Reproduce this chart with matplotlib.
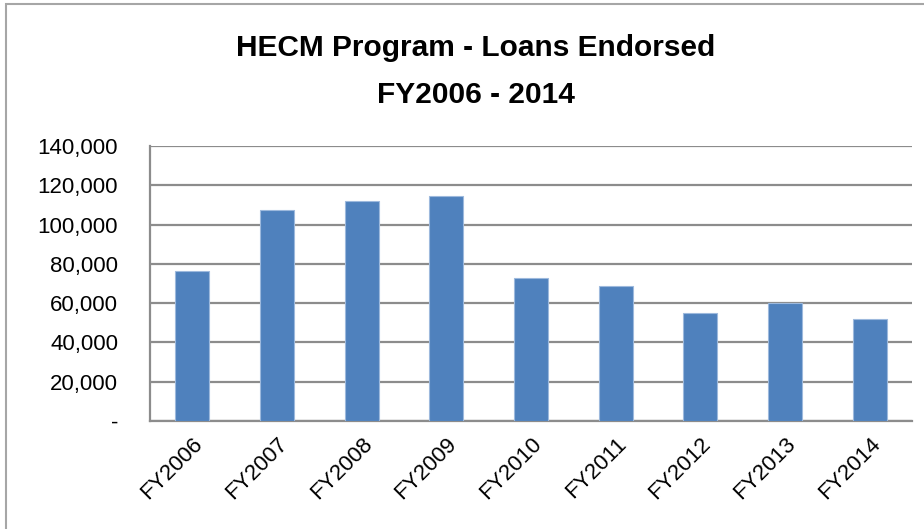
import matplotlib.pyplot as plt
from matplotlib.patches import Rectangle
from matplotlib.ticker import FuncFormatter

years = ['FY2006', 'FY2007', 'FY2008', 'FY2009', 'FY2010',
         'FY2011', 'FY2012', 'FY2013', 'FY2014']
loans = [76300, 107400, 112100, 114600, 72800, 68700, 54800, 59900, 51700]
y_ticks = [0, 20000, 40000, 60000, 80000, 100000, 120000, 140000]

plt.rcParams['font.family'] = ['Liberation Sans', 'DejaVu Sans']

W, H = 924, 529
fig = plt.figure(figsize=(W / 100, H / 100), dpi=100)
ax = fig.add_axes([150 / W, 1 - 421 / H, 762 / W, 275 / H])

# outer chart border
fig.patches.append(Rectangle((6 / W, -0.05), 1.2, 1 - 4 / H + 0.05,
                             transform=fig.transFigure, fill=False,
                             edgecolor='#a6a6a6', linewidth=1.5))

x = range(len(years))
ax.bar(x, loans, width=0.4, color='#4F81BD', edgecolor='#9db9dd',
       linewidth=0.8, zorder=3)

ax.set_xlim(-0.5, len(years) - 0.5)
ax.set_ylim(0, 140000)
ax.set_yticks(y_ticks)
ax.yaxis.set_major_formatter(FuncFormatter(lambda v, p: '-' if v == 0 else f'{int(v):,}'))
ax.grid(axis='y', color='#8c8c8c', linewidth=1.6, zorder=0)

ax.set_xticks(list(x))
ax.set_xticklabels(years, rotation=45, ha='right', va='top',
                   rotation_mode='anchor', fontsize=16)
ax.tick_params(axis='both', length=0)
ax.tick_params(axis='x', pad=9)
ax.tick_params(axis='y', labelsize=16, pad=23)

for s in ['top', 'right']:
    ax.spines[s].set_visible(False)
for s in ['left', 'bottom']:
    ax.spines[s].set_color('#8c8c8c')
    ax.spines[s].set_linewidth(1.6)

fig.text(476 / W, 1 - 48 / H, 'HECM Program - Loans Endorsed', ha='center',
         va='center', fontsize=21.5, fontweight='bold')
fig.text(476 / W, 1 - 95 / H, 'FY2006 - 2014', ha='center', va='center',
         fontsize=21.5, fontweight='bold')

fig.savefig('out.png', dpi=100)
